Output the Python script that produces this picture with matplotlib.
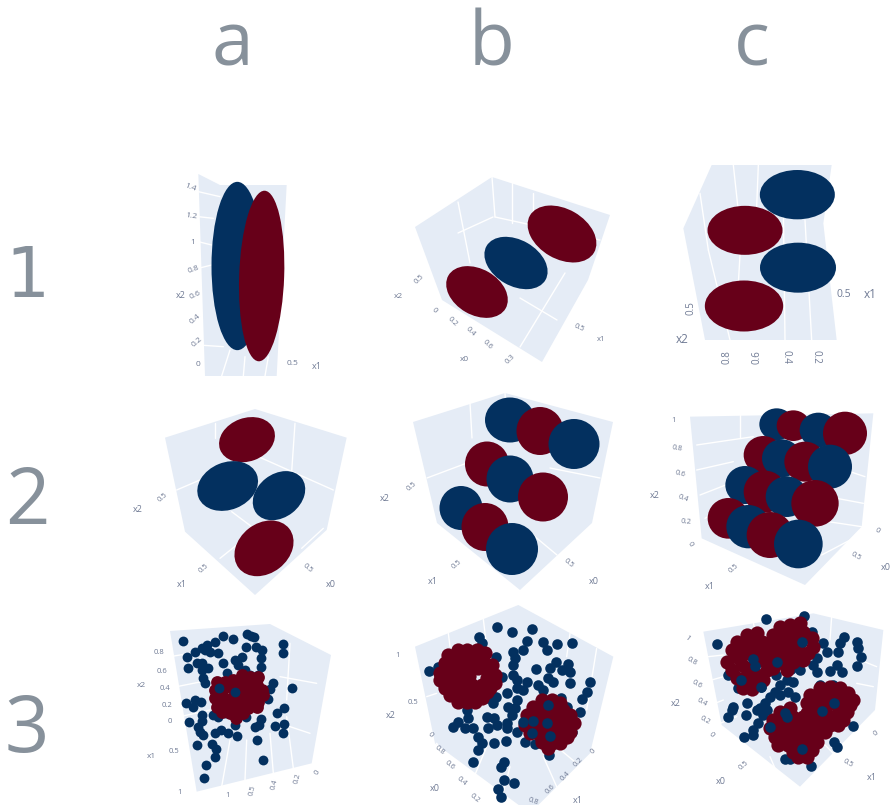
import matplotlib
matplotlib.use("Agg")
import matplotlib.pyplot as plt
from matplotlib.patches import Ellipse, Polygon

BLUE = "#03305f"
RED = "#670019"
WALL = "#e5ecf6"
TICK = "#6f7a94"
BIG = "#87919b"

column_labels = ["a", "b", "c"]
column_x = [232, 492, 752]
column_y = [65, 65, 65]
row_labels = ["1", "2", "3"]
row_x = [27, 27, 27]
row_y = [297, 524, 752]
row_fonts = ["DejaVu Sans", "Open Sans", "Open Sans"]
row_sizes = [50, 56, 56]

# ---- each panel: values in that panel's own crop units
wall_1a = [(205,72),(270,105),(470,105),(440,678),(225,678)]
grid_1a = [(205,125,270,140),(205,200,250,205),(205,275,245,285),(205,355,245,345),(205,585,280,590),
           (275,678,300,600),(340,678,345,620),(405,678,415,620)]
blobs_1a = [("b",322,348,155,505,0),("r",395,378,135,512,2)]
ticks_1a = [("1.4",180,112,-20,6),("1.2",185,200,-8,6),("1",188,278,0,6),("0.8",192,358,20,6),
            ("0.6",195,435,25,6),("0.4",195,508,40,6),("0.2",200,575,40,6),("0",204,642,0,6),
            ("x2",152,436,0,6.5),("0.5",488,640,0,6),("x1",561,650,0,6.5)]

wall_1b = [(415,227),(492,177),(610,215),(588,280),(542,362),(442,300)]
grid_1b = [(458,202,470,263),(493,217,458,233),(492,177,495,217),(512,183,512,223),(533,193,533,217),
           (565,273,520,347),(520,298,557,320),(495,217,600,240)]
blobs_1b = [("b",516,263,68,46,30),("r",477,292,66,46,30),("r",562,234,74,50,30)]
ticks_1b = [("0.5",419,279,45,5.5),("x2",398,296,0,6),("0",434,310,-45,5.5),("0.2",452,322,-45,5.5),
            ("0.4",470,332,-45,5.5),("0.6",487,345,-45,5.5),("x0",464,359,0,6),
            ("0.5",579,328,-25,5.5),("x1",601,339,0,5.5),("0.3",510,359,45,5.5)]

wall_1c = [(635,45),(995,45),(970,220),(1010,570),(615,570),(550,235)]
grid_1c = [(700,45,720,230),(775,45,770,170),(850,170,855,570),(915,210,935,570),(720,315,715,400),
           (600,130,625,300),(625,300,690,570)]
blobs_1c = [("b",892,134,225,148,0),("r",735,241,225,147,0),("b",894,353,228,150,0),("r",732,468,235,153,0)]
ticks_1c = [("0.5",1030,433,0,7.5),("x1",1110,433,0,8.5),("0.5",573,475,90,7),("x2",547,568,0,8.5),
            ("0.8",680,620,90,7),("0.6",770,620,90,7),("0.4",857,620,-90,7),("0.2",947,620,-90,7)]

wall_2a = [(405,42),(680,128),(620,405),(405,600),(195,410),(135,128)]
grid_2a = [(285,85,285,130),(525,85,515,230),(170,285,240,255),(415,185,640,285),(335,350,395,395),
           (300,490,350,450),(610,400,545,460)]
blobs_2a = [("r",381,134,172,130,-20),("b",323,273,188,142,-22),("b",477,302,172,130,-38),("r",432,460,192,150,-38)]
ticks_2a = [("0.5",127,307,40,5.5),("x2",52,343,0,6.5),("0.5",250,520,40,5.5),("x1",184,569,0,6.5),
            ("0.5",564,520,-40,5.5),("x0",633,568,0,6.5)]

wall_2b = [(413,422),(505,393),(613,422),(592,523),(520,590),(437,523)]
grid_2b = [(470,403,472,438),(427,478,467,463),(550,468,600,478),(533,535,557,555),(505,393,508,440)]
blobs_2b = [("b",510,420,50,45,0),("r",540,431,47,48,0),("b",574,444,51,50,0),
            ("r",487,464,44,45,0),("b",510,479,47,47,0),("r",543,497,50,49,0),
            ("b",461,508,43,44,0),("r",485,527,47,48,0),("b",512,549,52,52,0)]
ticks_2b = [("0.5",412,486,40,5.5),("x2",385,498,0,6.5),("0.5",457,564,40,5.5),("x1",433,581,0,6.5),
            ("0.5",569,563,-40,5.5),("x0",594,581,0,6.5)]

wall_2c = [(570,65),(1120,55),(1085,395),(915,570),(605,430)]
grid_2c = [(590,150,760,125),(590,225,700,200),(600,300,690,265),(615,370,640,355),(1010,310,1090,325),
           (985,380,1085,395),(720,55,720,130),(1060,430,965,480),(1050,230,1095,245)]
blobs_2c = [("b",830,88,104,96,0),("r",880,92,100,92,0),("b",955,105,112,104,0),("r",1035,115,132,130,0),
            ("r",790,180,118,114,0),("b",845,190,118,114,0),("r",915,200,124,120,0),("b",990,215,132,132,0),
            ("b",735,270,118,114,0),("r",795,290,128,126,0),("b",860,305,126,122,0),("r",945,325,142,140,0),
            ("r",685,370,124,122,0),("b",745,395,132,130,0),("r",810,420,140,138,0),("b",895,447,146,146,0)]
ticks_2c = [("1",522,77,0,5.5),("0.8",531,161,-10,5.5),("0.6",541,236,-15,5.5),("0.4",549,310,-20,5.5),
            ("0.2",559,380,-5,5.5),("0",570,448,-60,5.5),("x2",463,302,0,6.5),("0.5",700,521,40,5.5),
            ("x1",628,573,0,6.5),("0",1131,407,-30,5.5),("0.5",1068,485,-30,5.5),("x0",1157,516,0,6.5)]

wall_3a = [(120,93),(420,72),(603,165),(545,490),(200,575)]
grid_3a = [(120,170,240,150),(140,260,240,240),(150,350,240,330),(275,560,300,420),(345,540,350,420),
           (430,520,420,400),(490,505,470,350),(480,130,470,300),(560,250,450,230),(540,400,450,370)]
blue_3a_x = [160,280,310,352,362,372,254,347,378,395,458,460,232,215,195,225,240,265,170,393,393,335,315,325,278,200,215,175,215,235,292,345,360,385,218,225,428,420,485,415,168,190,195,212,250,265,285,215,215,178,205,210,218,348,393,388,375,315,462,440,435,463,458,255,272,295,322,380,200,245,258,255,228,398,222]
blue_3a_y = [122,108,117,103,108,112,125,140,140,150,132,158,135,145,155,150,155,158,170,175,200,170,180,195,188,188,190,203,210,205,218,210,225,225,235,248,248,268,265,298,308,322,300,305,345,352,340,345,362,366,380,395,405,352,358,375,380,375,325,338,378,372,400,400,390,400,408,420,435,432,448,470,495,480,533]
red_3a_x = [262,285,310,335,360,385,255,280,305,330,355,380,395,255,280,305,330,355,380,400,262,287,312,337,362,385,275,300,330,355,380,318,340]
red_3a_y = [245,245,240,225,230,232,270,268,262,250,250,255,270,295,295,295,275,275,280,285,320,320,320,300,300,305,335,340,325,325,320,355,340]
over_3a_x = [267,315]
over_3a_y = [263,275]
ticks_3a = [("0.8",87,158,0,5.5),("0.6",96,215,0,5.5),("0.4",105,266,0,5.5),("0.2",112,316,0,5.5),("0",120,364,0,5.5),
            ("x2",35,256,0,6),("0.5",133,454,0,5.5),("x1",63,470,0,6),("1",150,578,0,5.5),("1",292,585,0,5.5),
            ("0.5",368,570,75,5.5),("0.4",433,552,75,5.5),("0.2",503,535,75,5.5),("0",563,518,60,5.5)]

wall_3b = [(135,140),(445,15),(730,170),(660,460),(480,640),(195,430)]
grid_3b = [(235,100,240,140),(340,58,350,140),(600,100,590,170),(680,145,650,330),(170,290,200,280),(240,500,200,430),
           (300,560,350,440),(390,615,420,500),(560,560,520,470),(620,490,560,440)]
blue_3b_x = [380,425,485,327,335,470,520,532,562,605,430,460,378,177,203,435,430,497,558,595,540,575,600,430,395,440,472,535,550,600,660,650,637,630,410,440,460,505,520,360,378,350,370,440,415,435,291,425,350,372,295,410,265,248,285,310,355,380,410,440,325,335,325,373,408,465,495,310,403,392,402,433,385,392,537,572,605,590]
blue_3b_y = [80,95,87,112,130,123,125,150,133,130,155,150,172,213,200,175,195,207,185,192,205,210,215,225,230,240,245,235,245,248,245,275,298,335,280,265,270,255,270,295,290,295,310,300,320,325,330,345,350,355,355,370,365,380,385,385,385,375,385,395,410,430,450,430,423,425,432,485,485,500,540,548,567,592,465,295,395,320]
red_3b_x = [235,265,290,320,345,225,250,280,310,340,365,210,235,265,295,325,350,375,210,240,270,297,350,375,225,250,280,305,335,360,240,265,295,325,350,265,290,315,335,
            515,545,570,490,520,550,580,600,470,500,530,560,590,612,465,495,525,555,585,600,480,510,540,570,590,515,545,570,535]
red_3b_y = [165,150,150,150,160,190,175,175,175,185,195,220,205,200,200,205,210,225,240,230,225,228,235,250,265,255,250,255,255,265,285,280,280,280,275,305,305,305,295,
            300,300,310,320,325,325,330,345,345,350,350,350,360,370,375,375,380,380,385,395,400,405,405,410,410,425,430,430,445]
over_3b_x = [460,490,530,540,485,535]
over_3b_y = [365,363,368,408,400,315]
ticks_3b = [("1",82,165,0,5.5),("0.5",130,308,0,5.5),("x2",62,345,0,6.5),("0",180,405,-50,5.5),("0.8",208,452,-40,5.5),
            ("0.6",240,497,-40,5.5),("0.4",275,543,-40,5.5),("0.2",314,594,-40,5.5),("x0",195,564,0,6.5),
            ("0",668,455,45,5.5),("0.2",625,485,45,5.5),("0.4",585,527,45,5.5),("0.6",540,566,45,5.5),("0.8",490,603,-20,5.5),("x1",622,600,0,6.5)]

wall_3c = [(190,95),(520,40),(730,90),(705,330),(480,560),(245,375)]
grid_3c = [(340,65,345,100),(575,50,570,120),(205,170,250,165),(215,240,250,230),(225,310,250,300),(240,370,290,350),
           (340,480,300,420),(420,540,390,470),(590,470,550,430),(660,390,620,370),(710,200,660,180),(700,260,650,250)]
blue_3c_x = [377,492,230,517,487,612,600,650,655,662,550,560,595,650,590,570,605,530,520,530,497,480,452,340,345,410,408,263,303,363,295,440,460,420,405,420,445,465,390,375,360,380,370,350,322,280,275,263,318,355,340,338,312,390,435,440,583,547,580,540,640,583,592,487,435,450,513]
blue_3c_y = [58,48,132,95,125,110,130,127,145,172,130,155,155,198,195,212,215,175,195,215,168,210,208,178,197,187,225,225,240,260,263,240,245,255,275,285,275,290,290,310,325,330,345,330,310,322,330,352,345,368,390,405,412,382,340,350,310,333,255,255,378,425,440,447,478,478,498]
red_3c_x = [290,320,350,275,305,335,365,260,290,320,350,380,275,305,335,370,395,290,320,350,380,400,320,345,370,310,335,
            420,450,480,400,430,460,490,515,390,420,450,480,520,385,415,445,475,505,430,460,490,440,395,
            540,570,600,625,640,510,540,570,600,630,500,530,560,590,620,500,530,560,590,610,510,540,570,595,530,555,
            420,450,400,430,460,490,390,420,450,480,510,405,435,465,495,520,415,445,475,505,530,460,490,515,475,500]
red_3c_y = [125,105,100,150,135,130,125,185,170,160,155,150,210,195,200,180,175,235,225,225,210,205,255,255,240,265,268,
            80,75,70,105,105,100,95,115,130,130,130,125,140,155,160,160,155,160,190,185,180,210,175,
            265,260,265,280,300,285,290,285,290,315,310,315,315,315,335,340,345,345,345,360,370,375,375,375,395,395,
            335,325,360,360,350,350,385,385,380,375,380,410,410,405,405,410,435,435,430,430,425,455,460,450,470,470]
over_3c_x = [340,345,410,303,487,583,547,435,440,390,487,363]
over_3c_y = [178,197,187,240,125,310,333,340,350,382,447,260]
ticks_3c = [("1",142,115,-40,5.5),("0.8",157,185,-30,5.5),("0.6",172,252,-30,5.5),("0.4",185,307,-30,5.5),
            ("0.2",195,360,-30,5.5),("0",213,405,-50,5.5),("x2",106,311,0,6.5),("0.5",310,497,40,5.5),("x0",243,544,0,6.5),
            ("0",707,400,30,5.5),("0.5",625,490,-30,5.5),("x1",694,532,0,6.5)]

panels = [
    (130,150,3,wall_1a,grid_1a,blobs_1a,ticks_1a),
    (0,0,1,wall_1b,grid_1b,blobs_1b,ticks_1b),
    (500,150,3,wall_1c,grid_1c,blobs_1c,ticks_1c),
    (120,395,3,wall_2a,grid_2a,blobs_2a,ticks_2a),
    (0,0,1,wall_2b,grid_2b,blobs_2b,ticks_2b),
    (500,395,3,wall_2c,grid_2c,blobs_2c,ticks_2c),
    (130,600,3,wall_3a,grid_3a,[],ticks_3a),
    (370,600,3,wall_3b,grid_3b,[],ticks_3b),
    (640,600,3,wall_3c,grid_3c,[],ticks_3c),
]
scatter_sets = {
    6: (blue_3a_x,blue_3a_y,red_3a_x,red_3a_y,over_3a_x,over_3a_y,50,85),
    7: (blue_3b_x,blue_3b_y,red_3b_x,red_3b_y,over_3b_x,over_3b_y,58,105),
    8: (blue_3c_x,blue_3c_y,red_3c_x,red_3c_y,over_3c_x,over_3c_y,58,105),
}

W, H = 893, 805
fig = plt.figure(figsize=(W/100, H/100), dpi=100, facecolor="white")
plt.rcParams["font.family"] = ["Open Sans", "DejaVu Sans"]

def panel_axes(ox, oy, s):
    ax = fig.add_axes([0, 0, 1, 1])
    ax.set_xlim(-s*ox, s*(W-ox))
    ax.set_ylim(s*(H-oy), -s*oy)
    ax.axis("off")
    ax.patch.set_alpha(0)
    return ax

for i, (ox, oy, s, wall, grid, blobs, ticks) in enumerate(panels):
    ax = panel_axes(ox, oy, s)
    ax.add_patch(Polygon(wall, closed=True, fc=WALL, ec="none", zorder=1))
    for x0, y0, x1, y1 in grid:
        ax.plot([x0, x1], [y0, y1], color="white", lw=1.0, zorder=2, solid_capstyle="round")
    for z, (c, cx, cy, w, h, ang) in enumerate(blobs):
        ax.add_patch(Ellipse((cx, cy), w, h, angle=ang, fc=BLUE if c == "b" else RED, ec="none", zorder=3+z*0.01))
    if i in scatter_sets:
        bx, by, rx, ry, ox2, oy2, ms, mr = scatter_sets[i]
        ax.scatter(bx, by, s=ms, c=BLUE, linewidths=0, zorder=3)
        ax.scatter(rx, ry, s=mr, c=RED, linewidths=0, zorder=4)
        ax.scatter(ox2, oy2, s=ms, c=BLUE, linewidths=0, zorder=5)
    for t, x, y, rot, fs in ticks:
        ax.text(x, y, t, fontsize=fs, color=TICK, rotation=rot, ha="center", va="center", zorder=6)

ax = panel_axes(0, 0, 1)
for t, x, y in zip(column_labels, column_x, column_y):
    ax.text(x, y, t, fontsize=54, color=BIG, ha="center", va="baseline")
for t, x, y, f, fs in zip(row_labels, row_x, row_y, row_fonts, row_sizes):
    ax.text(x, y, t, fontsize=fs, family=f, color=BIG, ha="center", va="baseline")

fig.savefig("out.png", dpi=100, facecolor="white")
